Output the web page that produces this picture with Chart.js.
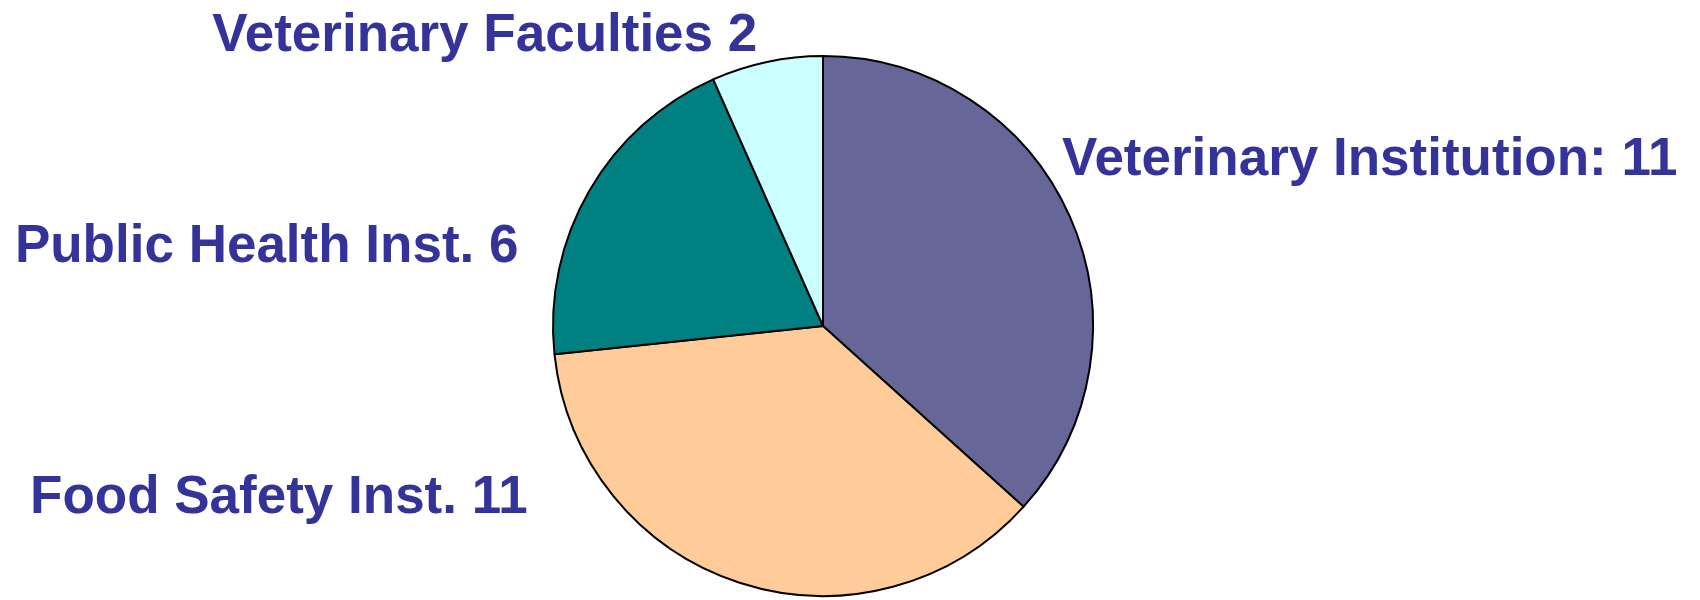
<!DOCTYPE html>
<html>
<head>
<meta charset="utf-8">
<script src="https://cdn.jsdelivr.net/npm/chart.js@4/dist/chart.umd.min.js"></script>
<style>
  html, body { margin: 0; padding: 0; background: #ffffff; }
  #wrap { width: 1700px; height: 600px; position: relative; }
</style>
</head>
<body>
<div id="wrap"><canvas id="c" width="1700" height="600"></canvas></div>
<script>
const categories = ["Veterinary Institution", "Food Safety Inst.", "Public Health Inst.", "Veterinary Faculties"];
const values = [11, 11, 6, 2];
const labelTexts = ["Veterinary Institution: 11", "Food Safety Inst. 11", "Public Health Inst. 6", "Veterinary Faculties 2"];
const sliceColors = ["#666699", "#FFCC99", "#008080", "#CCFFFF"];

// label placement relative to pie centre, in units of radius (left edge, baseline)
const labelOffsets = [
  { dx: 0.885, dy: -0.561 },
  { dx: -2.937, dy: 0.694 },
  { dx: -2.993, dy: -0.236 },
  { dx: -2.262, dy: -1.018 }
];

const labelPlugin = {
  id: 'sliceLabels',
  afterDatasetsDraw(chart) {
    const meta = chart.getDatasetMeta(0);
    const ctx = chart.ctx;
    ctx.save();
    ctx.font = 'bold 53px "Liberation Sans", Arial, sans-serif';
    ctx.fillStyle = '#333399';
    ctx.textAlign = 'left';
    ctx.textBaseline = 'alphabetic';
    meta.data.forEach((arc, i) => {
      const r = arc.outerRadius;
      const o = labelOffsets[i];
      ctx.fillText(labelTexts[i], arc.x + o.dx * r, arc.y + o.dy * r);
    });
    ctx.restore();
  }
};

new Chart(document.getElementById('c'), {
  type: 'pie',
  data: {
    labels: categories,
    datasets: [{
      data: values,
      backgroundColor: sliceColors,
      borderColor: '#000000',
      borderWidth: 2,
      borderAlign: 'center'
    }]
  },
  options: {
    responsive: false,
    animation: false,
    layout: { padding: { left: 552, right: 606, top: 55, bottom: 3 } },
    plugins: {
      legend: { display: false },
      tooltip: { enabled: false }
    }
  },
  plugins: [labelPlugin]
});
</script>
</body>
</html>
